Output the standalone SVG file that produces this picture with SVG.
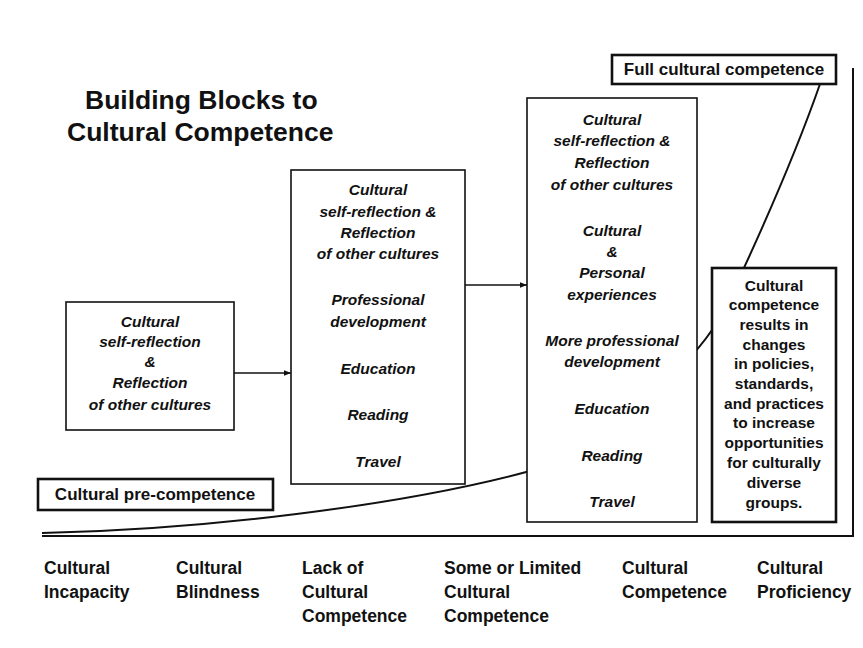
<svg xmlns="http://www.w3.org/2000/svg" width="863" height="648" viewBox="0 0 863 648">
<style>
text{font-family:"Liberation Sans",Arial,sans-serif;fill:#111}
.it{font-style:italic;font-weight:bold;font-size:15.5px;text-anchor:middle}
.rn{font-weight:bold;font-size:15.5px;text-anchor:middle}
.lb{font-weight:bold;font-size:17.5px}
.box{fill:#fff;stroke:#111;stroke-width:1.6}
.tbox{fill:#fff;stroke:#111;stroke-width:2.6}
.ln{fill:none;stroke:#111;stroke-width:2}
</style>
<defs>
<marker id="ah" viewBox="0 0 10 10" refX="10" refY="5" markerWidth="7" markerHeight="7" orient="auto" markerUnits="userSpaceOnUse">
<path d="M0,1 L10,5 L0,9 z" fill="#111"/>
</marker>
</defs>
<rect width="863" height="648" fill="#fff"/>
<g id="title">
<text x="85" y="109" style="font-weight:bold;font-size:26.5px">Building Blocks to</text>
<text x="67" y="141" style="font-weight:bold;font-size:26.5px">Cultural Competence</text>
</g>
<g id="connectors">
<path class="ln" d="M42,533 C200,530 400,506 530,471 C600,452 685,370 712,330 C730,303 790,170 820,84"/>
<path class="ln" d="M853,68 L853,536 L42,536" stroke-width="2.6"/>
<line x1="234" y1="373" x2="291" y2="373" stroke="#111" stroke-width="1.6" marker-end="url(#ah)"/>
<line x1="465" y1="285" x2="527" y2="285" stroke="#111" stroke-width="1.6" marker-end="url(#ah)"/>
</g>
<g id="box1">
<rect class="box" x="66" y="302" width="168" height="128"/>
<text class="it" x="150" y="327">Cultural</text>
<text class="it" x="150" y="347">self-reflection</text>
<text class="it" x="150" y="367">&amp;</text>
<text class="it" x="150" y="388">Reflection</text>
<text class="it" x="150" y="410">of other cultures</text>
</g>
<g id="box2">
<rect class="box" x="291" y="170" width="174" height="314"/>
<text class="it" x="378" y="195">Cultural</text>
<text class="it" x="378" y="217">self-reflection &amp;</text>
<text class="it" x="378" y="238">Reflection</text>
<text class="it" x="378" y="259">of other cultures</text>
<text class="it" x="378" y="305">Professional</text>
<text class="it" x="378" y="327">development</text>
<text class="it" x="378" y="374">Education</text>
<text class="it" x="378" y="420">Reading</text>
<text class="it" x="378" y="467">Travel</text>
</g>
<g id="box3">
<rect class="box" x="527" y="98" width="170" height="424"/>
<text class="it" x="612" y="125">Cultural</text>
<text class="it" x="612" y="146">self-reflection &amp;</text>
<text class="it" x="612" y="168">Reflection</text>
<text class="it" x="612" y="190">of other cultures</text>
<text class="it" x="612" y="236">Cultural</text>
<text class="it" x="612" y="257">&amp;</text>
<text class="it" x="612" y="278">Personal</text>
<text class="it" x="612" y="300">experiences</text>
<text class="it" x="612" y="346">More professional</text>
<text class="it" x="612" y="367">development</text>
<text class="it" x="612" y="414">Education</text>
<text class="it" x="612" y="461">Reading</text>
<text class="it" x="612" y="507">Travel</text>
</g>
<g id="box4">
<rect class="tbox" x="712" y="268" width="124" height="254"/>
<text class="rn" x="774" y="291">Cultural</text>
<text class="rn" x="774" y="310">competence</text>
<text class="rn" x="774" y="330">results in</text>
<text class="rn" x="774" y="350">changes</text>
<text class="rn" x="774" y="369">in policies,</text>
<text class="rn" x="774" y="389">standards,</text>
<text class="rn" x="774" y="409">and practices</text>
<text class="rn" x="774" y="428">to increase</text>
<text class="rn" x="774" y="448">opportunities</text>
<text class="rn" x="774" y="468">for culturally</text>
<text class="rn" x="774" y="488">diverse</text>
<text class="rn" x="774" y="508">groups.</text>
</g>
<g id="full">
<rect class="tbox" x="612" y="55" width="224" height="29"/>
<text x="724" y="75" style="font-weight:bold;font-size:17px;text-anchor:middle">Full cultural competence</text>
</g>
<g id="pre">
<rect class="tbox" x="38" y="479" width="235" height="31"/>
<text x="155" y="500" style="font-weight:bold;font-size:17px;text-anchor:middle">Cultural pre-competence</text>
</g>
<g id="scale">
<text class="lb" x="44" y="574">Cultural</text>
<text class="lb" x="44" y="598">Incapacity</text>
<text class="lb" x="176" y="574">Cultural</text>
<text class="lb" x="176" y="598">Blindness</text>
<text class="lb" x="302" y="574">Lack of</text>
<text class="lb" x="302" y="598">Cultural</text>
<text class="lb" x="302" y="622">Competence</text>
<text class="lb" x="444" y="574">Some or Limited</text>
<text class="lb" x="444" y="598">Cultural</text>
<text class="lb" x="444" y="622">Competence</text>
<text class="lb" x="622" y="574">Cultural</text>
<text class="lb" x="622" y="598">Competence</text>
<text class="lb" x="757" y="574">Cultural</text>
<text class="lb" x="757" y="598">Proficiency</text>
</g>
</svg>
